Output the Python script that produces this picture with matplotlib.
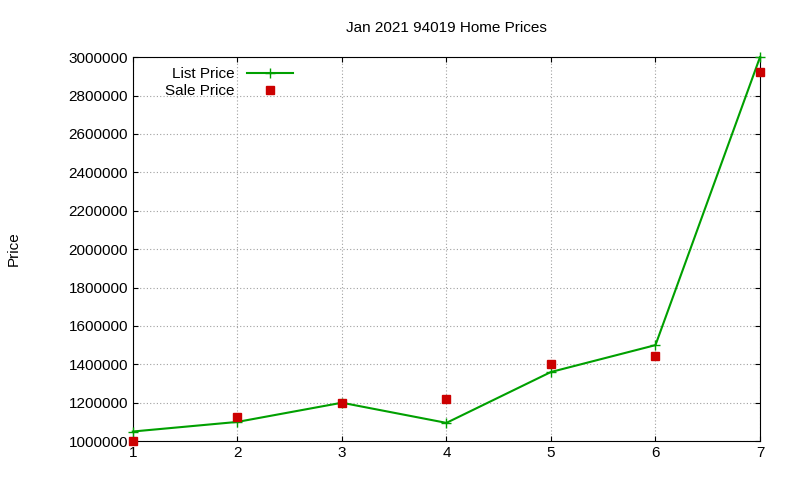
import matplotlib
matplotlib.use("Agg")
import matplotlib.pyplot as plt

x = [1, 2, 3, 4, 5, 6, 7]
list_price = [1050000, 1100000, 1200000, 1095000, 1360000, 1500000, 3000000]
sale_price = [1000000, 1125000, 1200000, 1220000, 1400000, 1445000, 2925000]
yticks = list(range(1000000, 3000001, 200000))

plt.rcParams['font.family'] = ['Liberation Sans', 'DejaVu Sans']
fig = plt.figure(figsize=(8, 4.8), dpi=100)
ax = fig.add_axes([0.166, 0.081, 0.784, 0.8])

ax.plot(x, list_price, color='#00a000', marker='+', markersize=7, linewidth=1.5,
        label='List Price', clip_on=False, zorder=3)
ax.plot(x, sale_price, linestyle='none', marker='s', markersize=6, color='#cc0000',
        label='Sale Price', clip_on=False, zorder=4)

ax.set_xlim(1, 7)
ax.set_ylim(1000000, 3000000)
ax.set_xticks(x)
ax.set_yticks(yticks)
ax.set_yticklabels([str(v) for v in yticks])
ax.tick_params(direction='in', top=True, right=True, labelsize=11)
ax.grid(True, color='#a0a0a0', linestyle=(0, (1, 2)), linewidth=0.8)
ax.set_ylabel('Price', fontsize=11)
ax.yaxis.set_label_coords(-0.178, 0.5)
ax.set_title('Jan 2021 94019 Home Prices', fontsize=11, pad=18)

leg = ax.legend(loc='upper left', bbox_to_anchor=(0.03, 1.01), frameon=False,
                markerfirst=False, fontsize=11, handlelength=3, labelspacing=0.2)
for t in leg.get_texts():
    t.set_ha('right')

fig.savefig('out.png')
